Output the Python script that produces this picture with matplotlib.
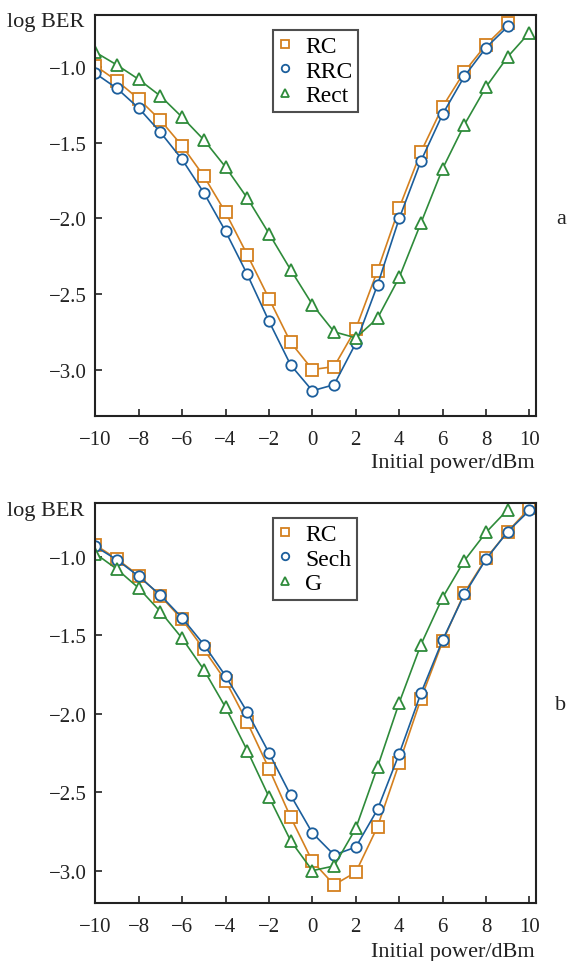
import matplotlib
matplotlib.use("Agg")
import matplotlib.pyplot as plt
import numpy as np

plt.rcParams['font.family'] = ['Liberation Serif', 'DejaVu Serif']
plt.rcParams['mathtext.fontset'] = 'stix'

# power axis (dBm)
power = np.arange(-10, 11)

# panel a
a_rc = [-0.99, -1.09, -1.21, -1.35, -1.52, -1.72, -1.96, -2.24, -2.53, -2.82,
        -3.00, -2.98, -2.73, -2.345, -1.93, -1.56, -1.26, -1.03, -0.85, -0.71]
a_rrc = [-1.04, -1.14, -1.27, -1.43, -1.61, -1.83, -2.085, -2.37, -2.68, -2.97,
         -3.14, -3.10, -2.825, -2.44, -2.00, -1.62, -1.31, -1.06, -0.87, -0.73]
a_rect = [-0.90, -0.985, -1.08, -1.19, -1.33, -1.48, -1.66, -1.865, -2.10, -2.34,
          -2.57, -2.75, -2.79, -2.66, -2.39, -2.03, -1.67, -1.38, -1.13, -0.93, -0.77]

# panel b
b_rc = [-0.925, -1.015, -1.12, -1.25, -1.40, -1.59, -1.79, -2.055, -2.35, -2.66,
        -2.94, -3.09, -3.01, -2.72, -2.315, -1.905, -1.54, -1.23, -1.01, -0.84, -0.69]
b_sech = [-0.935, -1.02, -1.125, -1.245, -1.39, -1.56, -1.76, -1.99, -2.25, -2.52,
          -2.76, -2.90, -2.85, -2.61, -2.255, -1.87, -1.53, -1.24, -1.015, -0.84, -0.705]
b_g = [-0.98, -1.08, -1.20, -1.35, -1.52, -1.72, -1.96, -2.235, -2.53, -2.81,
       -3.00, -2.97, -2.73, -2.34, -1.93, -1.56, -1.26, -1.025, -0.845, -0.70]

ORANGE = '#D4801F'
BLUE = '#1B5E9C'
GREEN = '#2E8B3A'

W, H = 568, 962
fig = plt.figure(figsize=(W / 100, H / 100), dpi=100)


def make_axes(top_px, bottom_px):
    left, right = 95.3, 536
    return fig.add_axes([left / W, 1 - bottom_px / H, (right - left) / W,
                         (bottom_px - top_px) / H])


def style_axes(ax, ylim):
    ax.set_xlim(-10, 10.3)
    ax.set_ylim(*ylim)
    ax.set_xticks(range(-10, 11, 2))
    ax.set_yticks([-1.0, -1.5, -2.0, -2.5, -3.0])
    ax.yaxis.set_major_formatter(plt.FuncFormatter(lambda v, p: f'{v:.1f}'.replace('-', '\u2212')))
    ax.tick_params(direction='in', length=5, width=1.2, labelsize=15,
                   colors='#222222')
    ax.tick_params(axis='x', pad=10)
    ax.tick_params(axis='y', pad=6)
    for s in ax.spines.values():
        s.set_linewidth(1.5)
        s.set_color('#222222')


def draw(ax, series):
    for y, mk, col, lab in series:
        ax.plot(power[:len(y)], y, marker=mk, color=col, lw=1.2, ms=8 if mk != 'o' else 7.5,
                mfc='white', mew=1.3, label=lab)
    leg = ax.legend(loc='upper left', bbox_to_anchor=(0.404, 0.963), borderaxespad=0,
                    fontsize=17, frameon=True, fancybox=False, edgecolor='#222222',
                    handlelength=0.5, handletextpad=0.6, labelspacing=0.12,
                    borderpad=0.25, markerscale=0.72)
    leg.get_frame().set_linewidth(1.5)
    for h in leg.legend_handles:
        h.set_linestyle('none')


ax1 = make_axes(16, 416.7)
draw(ax1, [(a_rc, 's', ORANGE, 'RC'), (a_rrc, 'o', BLUE, 'RRC'), (a_rect, '^', GREEN, 'Rect')])
style_axes(ax1, (-3.305, -0.654))

ax2 = make_axes(504, 904)
draw(ax2, [(b_rc, 's', ORANGE, 'RC'), (b_sech, 'o', BLUE, 'Sech'), (b_g, '^', GREEN, 'G')])
style_axes(ax2, (-3.206, -0.658))

# labels
for base_y in (27, 515.7):
    fig.text(7 / W, 1 - base_y / H, 'log BER', fontsize=16, va='baseline', ha='left',
             color='#222222')
for base_y in (468, 957.3):
    fig.text(535 / W, 1 - base_y / H, 'Initial power/dBm', fontsize=16, va='baseline',
             ha='right', color='#222222')
fig.text(561 / W, 1 - 220 / H, 'a', fontsize=16, va='center', ha='center', color='#222222')
fig.text(561 / W, 1 - 706 / H, 'b', fontsize=16, va='center', ha='center', color='#222222')

fig.savefig('out.png', dpi=100)
